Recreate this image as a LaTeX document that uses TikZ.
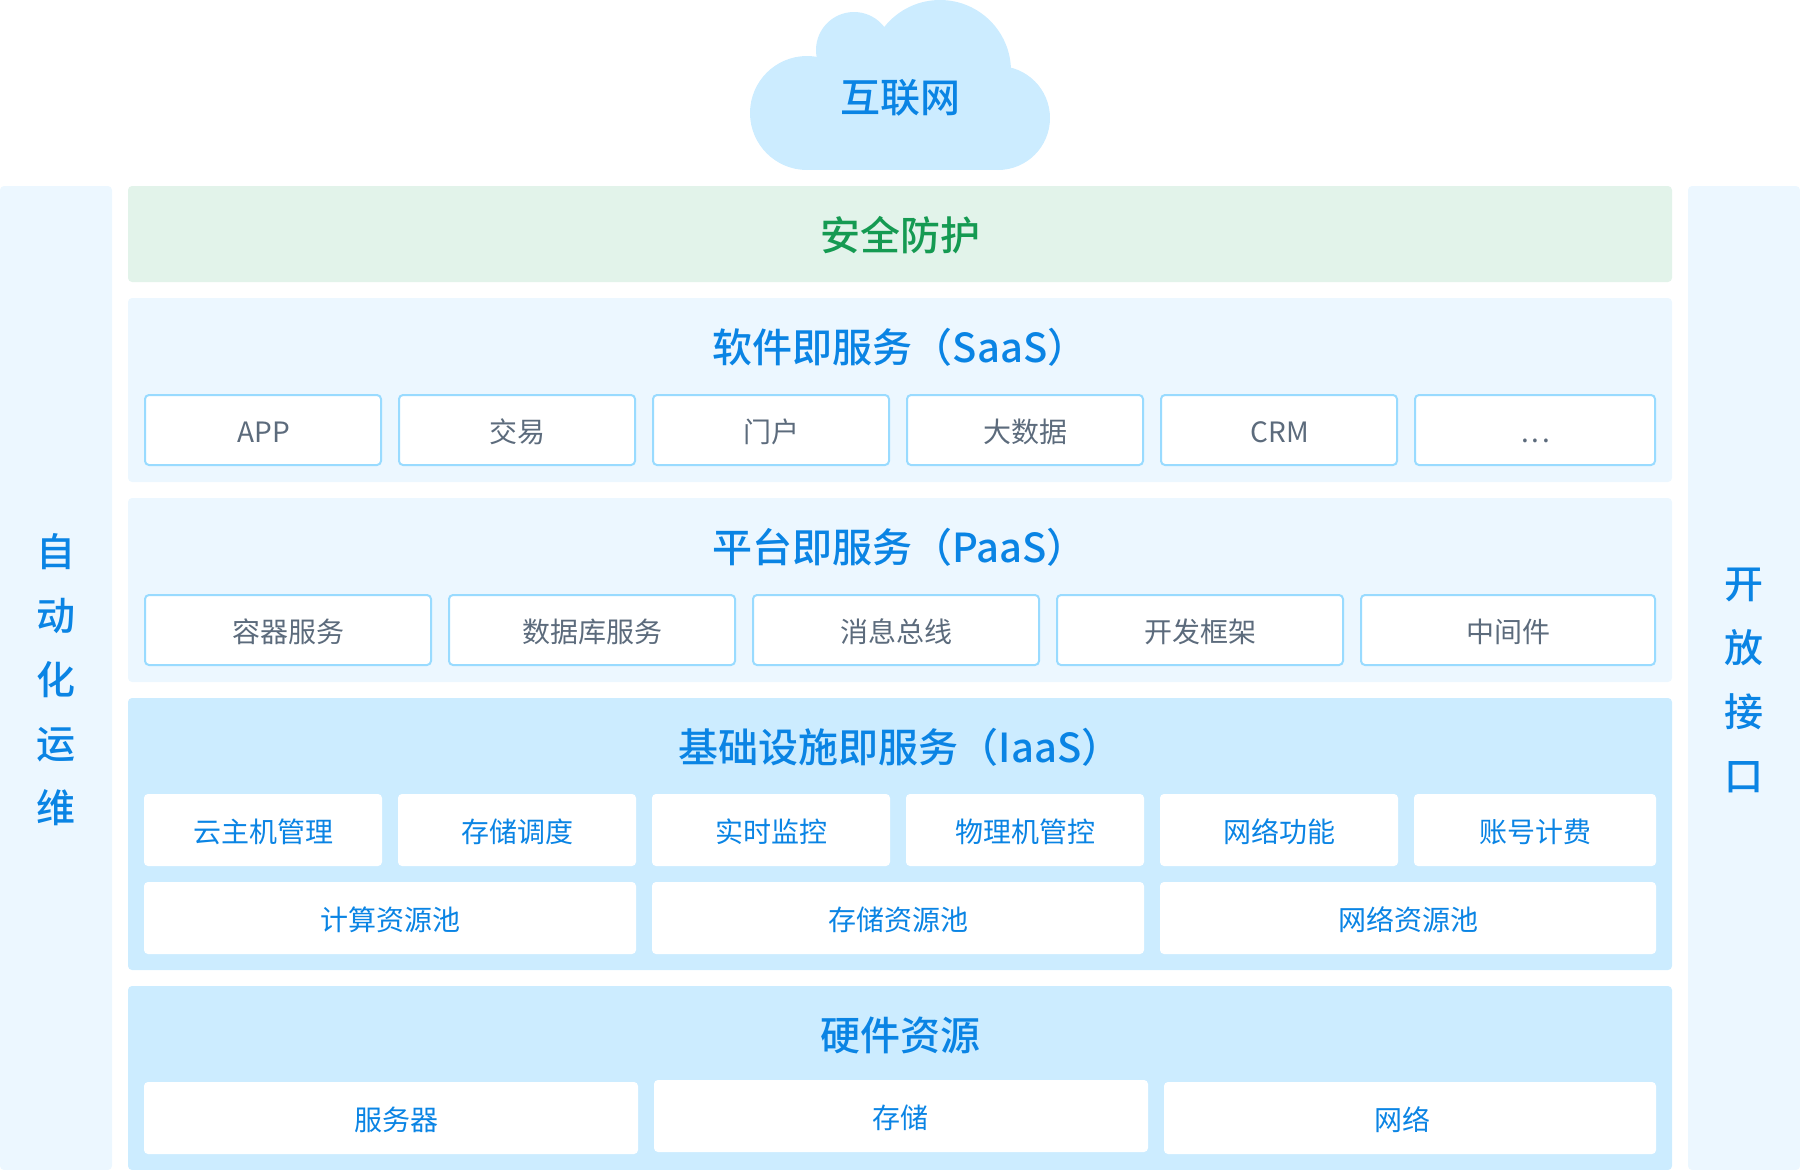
\documentclass[tikz,border=0pt]{standalone}
\usepackage{fontspec}
\setmainfont{Noto Sans CJK SC}
\newfontfamily\medfont{Noto Sans CJK SC Medium}
\definecolor{cblue}{HTML}{0A84E4}
\definecolor{cgray}{HTML}{5C6B7C}
\definecolor{cgreen}{HTML}{159A52}
\definecolor{clight}{HTML}{ECF7FF}
\definecolor{cdeep}{HTML}{CCECFF}
\definecolor{cgbg}{HTML}{E2F3EA}
\definecolor{cline}{HTML}{99DBFF}
\tikzset{
  base/.style={rectangle,rounded corners=4pt,inner sep=0pt,outer sep=0pt,anchor=center},
  lightpanel/.style={base,fill=clight},
  deeppanel/.style={base,fill=cdeep},
  greenpanel/.style={base,fill=cgbg},
  sidelabel/.style={inner sep=0pt,outer sep=0pt,anchor=center,align=center,text=cblue,font=\medfont\fontsize{39}{64}\selectfont},
  lined/.style={base,fill=white,draw=cline,line width=2pt,text=cgray,font=\fontsize{28}{28}\selectfont,text height=30pt,text depth=5pt,execute at begin node=\hspace*{1.5pt}},
  plain/.style={base,fill=white,text=cblue,font=\fontsize{28}{28}\selectfont,text height=30pt,text depth=5pt,execute at begin node=\hspace*{1.5pt}},
  title/.style={inner sep=0pt,outer sep=0pt,anchor=center,text=cblue,font=\medfont\fontsize{40}{40}\selectfont},
}
\newcommand{\rb}[7]{%
  \pgfmathsetmacro{\rbw}{(#4)-(#2)}\pgfmathsetmacro{\rbh}{(#5)-(#3)}%
  \pgfmathsetmacro{\rbx}{((#4)+(#2))/2}\pgfmathsetmacro{\rby}{((#5)+(#3))/2}%
  \node[#6,minimum width=\rbw pt,minimum height=\rbh pt] (#1) at (\rbx,\rby) {#7};%
}
\newcommand{\lb}[6]{\rb{#1}{#2+1}{#3+1}{#4-1}{#5-1}{lined}{#6}}
\begin{document}
\begin{tikzpicture}[x=1pt,y=-1pt]
\useasboundingbox (0,0) rectangle (1800,1170);
% cloud
\fill[cdeep] (807,113) circle[radius=57] (998,118) circle[radius=52]
  (940,71) circle[radius=71] (854,50) circle[radius=38];
\fill[cdeep] (807,60) rectangle (998,170);
\node[title] (cloud) at (900,98) {互联网};
% side panels
\rb{left}{0}{186}{112}{1170}{lightpanel}{}
\node[sidelabel] (leftlabel) at (55.5,680) {自\\动\\化\\运\\维};
\rb{right}{1688}{186}{1800}{1170}{lightpanel}{}
\node[sidelabel] (rightlabel) at (1744,680) {开\\放\\接\\口};
% layers
\rb{sec}{128}{186}{1672}{282}{greenpanel}{}
\node[title,text=cgreen] (sectitle) at (900,235) {安全防护};
\rb{saas}{128}{298}{1672}{482}{lightpanel}{}
\node[title] (saastitle) at (900,347) {软件即服务（SaaS）};
\lb{s1}{144}{394}{382}{466}{APP}
\lb{s2}{398}{394}{636}{466}{交易}
\lb{s3}{652}{394}{890}{466}{门户}
\lb{s4}{906}{394}{1144}{466}{大数据}
\lb{s5}{1160}{394}{1398}{466}{CRM}
\lb{s6}{1414}{394}{1656}{466}{.\kern2.6pt.\kern2.6pt.}
\rb{paas}{128}{498}{1672}{682}{lightpanel}{}
\node[title] (paastitle) at (899.5,547) {平台即服务（PaaS）};
\lb{p1}{144}{594}{432}{666}{容器服务}
\lb{p2}{448}{594}{736}{666}{数据库服务}
\lb{p3}{752}{594}{1040}{666}{消息总线}
\lb{p4}{1056}{594}{1344}{666}{开发框架}
\lb{p5}{1360}{594}{1656}{666}{中间件}
\rb{iaas}{128}{698}{1672}{970}{deeppanel}{}
\node[title] (iaastitle) at (900,747) {基础设施即服务（IaaS）};
\rb{i1}{144}{794}{382}{866}{plain}{云主机管理}
\rb{i2}{398}{794}{636}{866}{plain}{存储调度}
\rb{i3}{652}{794}{890}{866}{plain}{实时监控}
\rb{i4}{906}{794}{1144}{866}{plain}{物理机管控}
\rb{i5}{1160}{794}{1398}{866}{plain}{网络功能}
\rb{i6}{1414}{794}{1656}{866}{plain}{账号计费}
\rb{r1}{144}{882}{636}{954}{plain}{计算资源池}
\rb{r2}{652}{882}{1144}{954}{plain}{存储资源池}
\rb{r3}{1160}{882}{1656}{954}{plain}{网络资源池}
\rb{hw}{128}{986}{1672}{1170}{deeppanel}{}
\node[title] (hwtitle) at (900,1035) {硬件资源};
\rb{h1}{144}{1082}{638}{1154}{plain}{\hspace*{8.5pt}服务器}
\rb{h2}{654}{1080}{1148}{1152}{plain}{\hspace*{-3.5pt}存储}
\rb{h3}{1164}{1082}{1656}{1154}{plain}{网络\hspace*{17.5pt}}
\end{tikzpicture}
\end{document}
